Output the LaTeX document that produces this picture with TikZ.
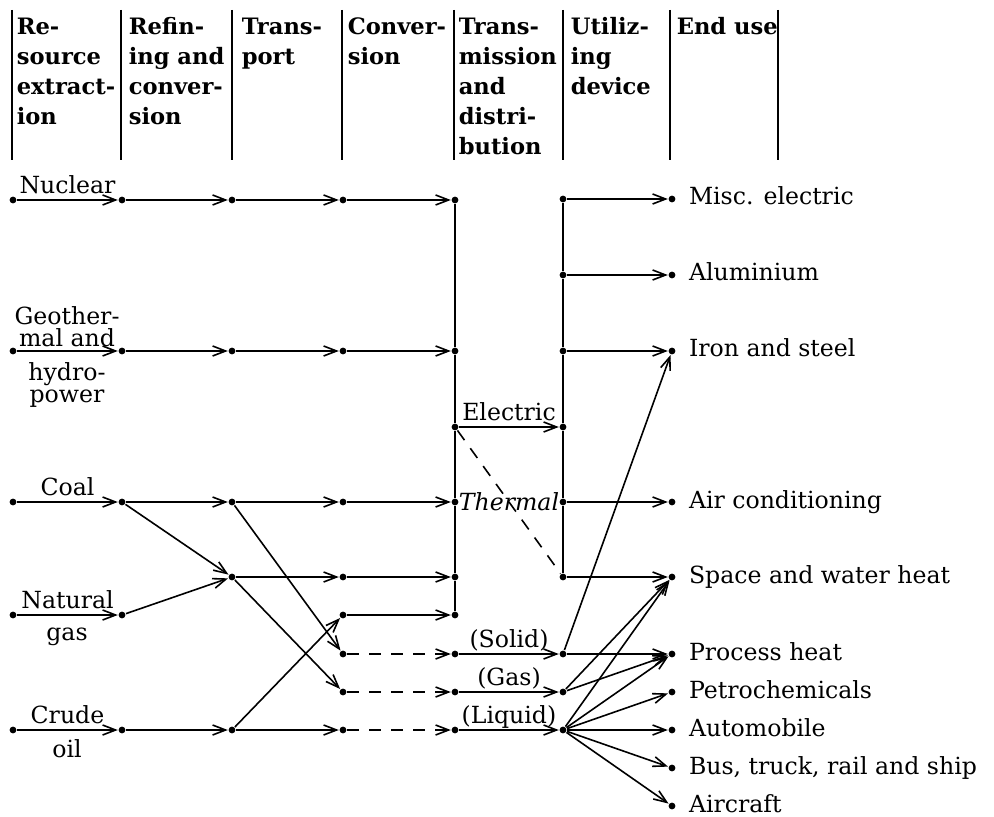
\documentclass[tikz,border=0pt]{standalone}
\usepackage{fontspec}
\setmainfont{DejaVu Serif}
\usetikzlibrary{arrows.meta}
\tikzset{
  dot/.style={circle,fill,inner sep=0pt,minimum size=3.4pt},
  flow/.style={-{Straight Barb[length=6.5pt,width=5pt]}},
  gap/.style={dash pattern=on 6pt off 5pt},
  colhead/.style={anchor=north west,align=left,inner sep=0pt,
    font=\bfseries\fontsize{11.3}{15}\selectfont},
  lab/.style={anchor=base,inner sep=0pt,yshift=3.2pt,
    font=\fontsize{11.8}{11}\selectfont},
  txt/.style={inner sep=0pt,align=center,font=\fontsize{11.8}{11}\selectfont},
  enduse/.style={anchor=west,inner sep=0pt,text height=6pt,text depth=0pt,
    label distance=6pt,font=\fontsize{11.8}{11}\selectfont}
}
\begin{document}
\begin{tikzpicture}[x=0.5pt,y=-0.5pt,line width=0.8pt]
  \useasboundingbox (0,0) rectangle (994,817);
  % column heads
  \draw (12,10) -- (12,160) (121,10) -- (121,160) (232,10) -- (232,160)
    (342,10) -- (342,160) (454,10) -- (454,160) (563,10) -- (563,160)
    (670,10) -- (670,160) (778,10) -- (778,160);
  \node[colhead] (h1) at (16,17) {Re-\\source\\extract-\\ion};
  \node[colhead] (h2) at (128,17) {Refin-\\ing and\\conver-\\sion};
  \node[colhead] (h3) at (241,17) {Trans-\\port};
  \node[colhead] (h4) at (347,17) {Conver-\\sion};
  \node[colhead] (h5) at (458,17) {Trans-\\mission\\and\\distri-\\bution};
  \node[colhead] (h6) at (570,17) {Utiliz-\\ing\\device};
  \node[colhead] (h7) at (676,17) {End use};
  % junctions
  \path
    (13,200) node[dot] (nu0) {}
    (122,200) node[dot] (nu1) {}
    (232,200) node[dot] (nu2) {}
    (343,200) node[dot] (nu3) {}
    (455,200) node[dot] (nu4) {}
    (13,351) node[dot] (ge0) {}
    (122,351) node[dot] (ge1) {}
    (232,351) node[dot] (ge2) {}
    (343,351) node[dot] (ge3) {}
    (455,351) node[dot] (ge4) {}
    (455,427) node[dot] (el4) {}
    (563,427) node[dot] (el5) {}
    (13,502) node[dot] (co0) {}
    (122,502) node[dot] (co1) {}
    (232,502) node[dot] (co2) {}
    (343,502) node[dot] (co3) {}
    (455,502) node[dot] (co4) {}
    (232,577) node[dot] (mx2) {}
    (343,577) node[dot] (mx3) {}
    (455,577) node[dot] (mx4) {}
    (13,615) node[dot] (ng0) {}
    (122,615) node[dot] (ng1) {}
    (343,615) node[dot] (cv3) {}
    (455,615) node[dot] (cv4) {}
    (343,654) node[dot] (so3) {}
    (455,654) node[dot] (so4) {}
    (563,654) node[dot] (so5) {}
    (343,692) node[dot] (gs3) {}
    (455,692) node[dot] (gs4) {}
    (563,692) node[dot] (gs5) {}
    (13,730) node[dot] (cr0) {}
    (122,730) node[dot] (cr1) {}
    (232,730) node[dot] (cr2) {}
    (343,730) node[dot] (cr3) {}
    (455,730) node[dot] (cr4) {}
    (563,730) node[dot] (cr5) {}
    (563,199) node[dot] (ut1) {}
    (563,275) node[dot] (ut2) {}
    (563,351) node[dot] (ut3) {}
    (563,502) node[dot] (th5) {}
    (563,577) node[dot] (sp5) {}
    (672,199) node[dot,label={[enduse]right:Misc. electric}] (misc) {}
    (672,275) node[dot,label={[enduse]right:Aluminium}] (alum) {}
    (672,351) node[dot,label={[enduse]right:Iron and steel}] (iron) {}
    (672,502) node[dot,label={[enduse]right:Air conditioning}] (aircon) {}
    (672,577) node[dot,label={[enduse]right:Space and water heat}] (space) {}
    (672,654) node[dot,label={[enduse]right:Process heat}] (process) {}
    (672,692) node[dot,label={[enduse]right:Petrochemicals}] (petro) {}
    (672,730) node[dot,label={[enduse]right:Automobile}] (auto) {}
    (672,768) node[dot,label={[enduse]right:Bus, truck, rail and ship}] (bus) {}
    (672,806) node[dot,label={[enduse]right:Aircraft}] (plane) {};
  % resource names
  \node[txt,anchor=south] (geoa) at (67,348) {Geother-\\mal and};
  \node[txt,anchor=north] (geob) at (67,362) {hydro-\\power};
  \node[txt,anchor=north] (gasb) at (67,627) {gas};
  \node[txt,anchor=north] (oilb) at (67,739) {oil};
  \node[txt,anchor=base,font=\itshape\fontsize{11.8}{11}\selectfont] (thermal) at (509,510) {Thermal};
  % flows
  \begin{scope}[flow]
    \draw (nu0) to node[lab] {Nuclear} (nu1);
    \draw (nu1) to (nu2);
    \draw (nu2) to (nu3);
    \draw (nu3) to (nu4);
    \draw (ge0) to (ge1);
    \draw (ge1) to (ge2);
    \draw (ge2) to (ge3);
    \draw (ge3) to (ge4);
    \draw (co0) to node[lab] {Coal} (co1);
    \draw (co1) to (co2);
    \draw (co2) to (co3);
    \draw (co3) to (co4);
    \draw (co1) to (mx2);
    \draw (ng0) to node[lab] {Natural} (ng1);
    \draw (ng1) to (mx2);
    \draw (mx2) to (mx3);
    \draw (mx3) to (mx4);
    \draw (co2) to (so3);
    \draw (mx2) to (gs3);
    \draw (cr0) to node[lab] {Crude} (cr1);
    \draw (cr1) to (cr2);
    \draw (cr2) to (cv3);
    \draw (cr2) to (cr3);
    \draw (cv3) to (cv4);
    \draw[gap] (so3) to (so4);
    \draw[gap] (gs3) to (gs4);
    \draw[gap] (cr3) to (cr4);
    \draw (el4) to node[lab] {Electric} (el5);
    \draw (so4) to node[lab] {(Solid)} (so5);
    \draw (gs4) to node[lab] {(Gas)} (gs5);
    \draw (cr4) to node[lab] {(Liquid)} (cr5);
    \draw (ut1) to (misc);
    \draw (ut2) to (alum);
    \draw (ut3) to (iron);
    \draw (th5) to (aircon);
    \draw (sp5) to (space);
    \draw (so5) to (iron);
    \draw (so5) to (process);
    \draw (gs5) to (space);
    \draw (gs5) to (process);
    \draw (cr5) to (space);
    \draw (cr5) to (process);
    \draw (cr5) to (petro);
    \draw (cr5) to (auto);
    \draw (cr5) to (bus);
    \draw (cr5) to (plane);
  \end{scope}
  \draw (nu4) -- (ge4) -- (el4) -- (co4) -- (mx4) -- (cv4);
  \draw (ut1) -- (ut2) -- (ut3) -- (el5) -- (th5) -- (sp5);
  \draw[gap] (el4) -- (sp5);
\end{tikzpicture}
\end{document}
